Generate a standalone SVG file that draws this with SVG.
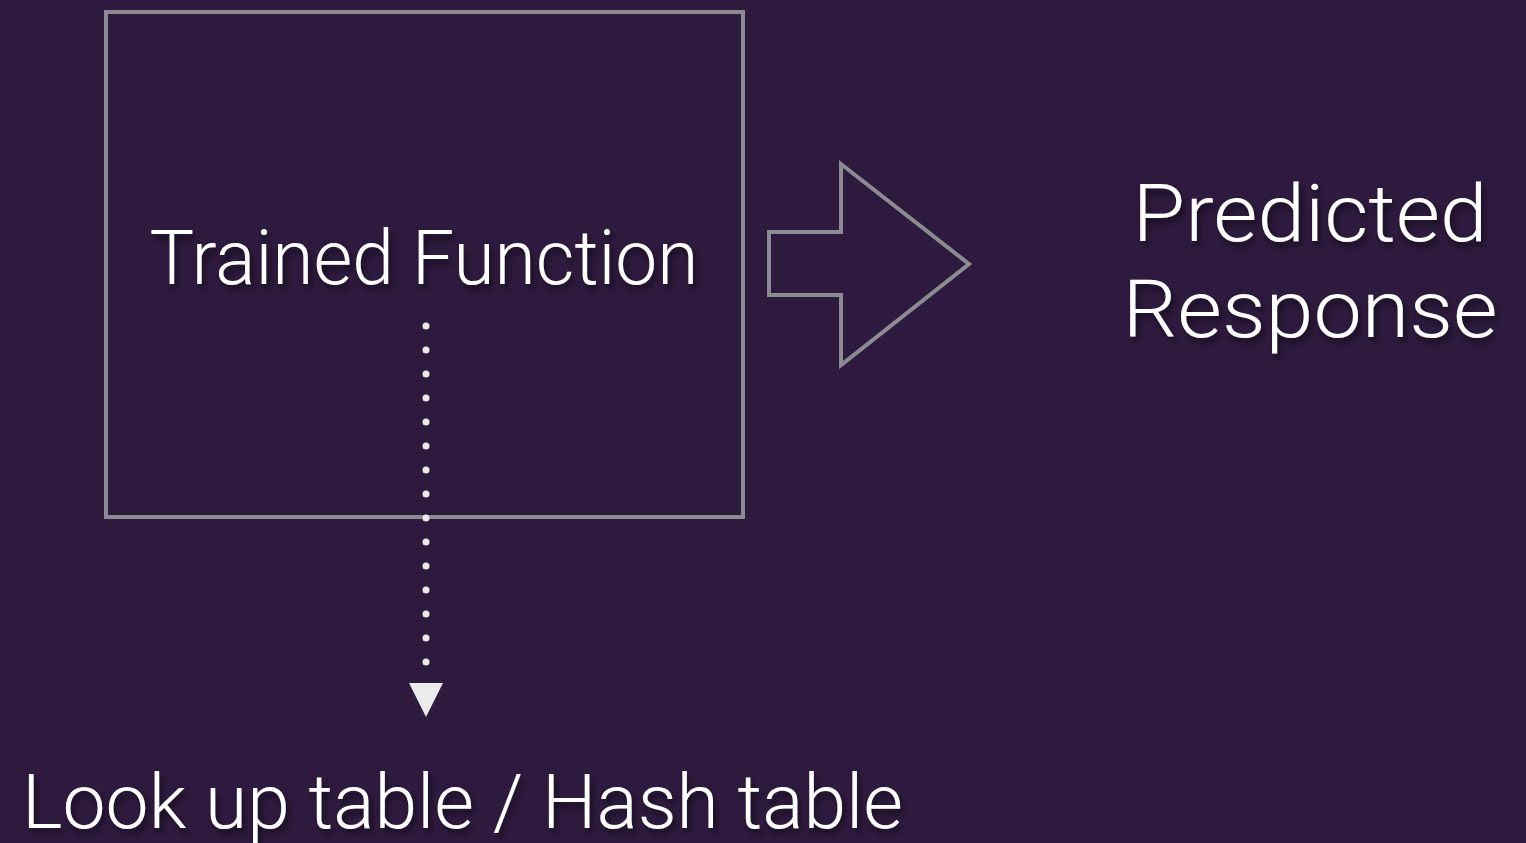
<svg xmlns="http://www.w3.org/2000/svg" width="1526" height="843" viewBox="0 0 1526 843">
  <defs>
    <filter id="shadow" x="-10%" y="-30%" width="120%" height="160%">
      <feDropShadow dx="3" dy="5" stdDeviation="3" flood-color="#000000" flood-opacity="0.55"/>
    </filter>
  </defs>
  <style>
    .outline { fill: none; stroke: #8a8c91; stroke-width: 4; }
    .label { fill: #ffffff; font-family: Roboto, "Liberation Sans", sans-serif; font-weight: 300; filter: url(#shadow); }
    .dotted { stroke: #ebebeb; stroke-width: 7; stroke-linecap: round; stroke-dasharray: 0 24; fill: none; }
  </style>

  <rect x="0" y="0" width="1526" height="843" fill="#2e1a3e"/>

  <!-- Trained function box -->
  <g id="trained-function">
    <rect class="outline" x="106" y="12" width="637" height="505"/>
    <text class="label" x="424" y="284" font-size="76" text-anchor="middle" textLength="549" lengthAdjust="spacingAndGlyphs">Trained Function</text>
  </g>

  <!-- Block arrow pointing to the response -->
  <g id="block-arrow">
    <polygon class="outline" points="769,232 841,232 841,164 969,264 841,365 841,295 769,295"/>
  </g>

  <!-- Predicted response -->
  <g id="predicted-response">
    <text class="label" x="1310" y="241" font-size="80" text-anchor="middle" textLength="355" lengthAdjust="spacingAndGlyphs">Predicted</text>
    <text class="label" x="1310" y="337" font-size="80" text-anchor="middle" textLength="375" lengthAdjust="spacingAndGlyphs">Response</text>
  </g>

  <!-- Lookup table -->
  <g id="lookup-table">
    <text class="label" x="22" y="828" font-size="76" textLength="881" lengthAdjust="spacingAndGlyphs">Look up table / Hash table</text>
  </g>

  <!-- Connectors -->
  <g id="connectors">
    <line class="dotted" x1="426" y1="326" x2="426" y2="670"/>
    <path d="M409,683 L443,683 L426,717 Z" fill="#ebebeb"/>
  </g>
</svg>
